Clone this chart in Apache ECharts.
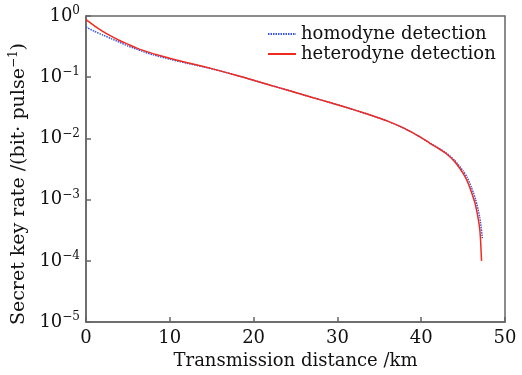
<!DOCTYPE html>
<html><head><meta charset="utf-8">
<script src="https://cdn.jsdelivr.net/npm/echarts@6/dist/echarts.min.js"></script>
<style>html,body{margin:0;padding:0;background:#fff}#c{width:522px;height:375px}</style>
</head><body><div id="c"></div>
<script>
const homDistance = [0, 1, 2, 3, 4, 5, 6, 7, 8, 10, 12, 14, 16, 18, 20, 22, 24, 26, 28, 30, 32, 34, 36, 38, 40, 41, 42, 43, 44, 45, 45.5, 46, 46.5, 47, 47.3];
const homRate = [0.661, 0.562, 0.490, 0.427, 0.372, 0.324, 0.288, 0.257, 0.232, 0.197, 0.170, 0.148, 0.127, 0.107, 0.0891, 0.0741, 0.0617, 0.0513, 0.0427, 0.0355, 0.0293, 0.0239, 0.0192, 0.0146, 0.0103, 0.00845, 0.00705, 0.00578, 0.00437, 0.00295, 0.00229, 0.00158, 0.00100, 0.000501, 0.000234];
const hetDistance = [0, 1, 2, 3, 4, 5, 6, 7, 8, 10, 12, 14, 16, 18, 20, 22, 24, 26, 28, 30, 32, 34, 36, 38, 40, 41, 42, 43, 44, 45, 45.5, 46, 46.5, 47, 47.2];
const hetRate = [0.871, 0.692, 0.562, 0.468, 0.398, 0.347, 0.302, 0.269, 0.243, 0.204, 0.174, 0.150, 0.127, 0.107, 0.0891, 0.0741, 0.0617, 0.0513, 0.0427, 0.0355, 0.0293, 0.0239, 0.0192, 0.0146, 0.0103, 0.00840, 0.00695, 0.00562, 0.00417, 0.00269, 0.00200, 0.00132, 0.000794, 0.000316, 0.000100];
const xMin = 0, xMax = 50, xStep = 10;
const yMin = 1e-5, yMax = 1;
const seriesNames = ['homodyne detection', 'heterodyne detection'];

const FONT = 'DejaVu Serif';
const AX = '#666';
const pair = (xs, ys) => xs.map((x, i) => [x, ys[i]]);
const supRich = {
  b: {fontFamily: FONT, fontSize: 18, color: '#111'},
  s: {fontFamily: FONT, fontSize: 12, color: '#111', padding: [0, 0, 10, 0]}
};
const titleRich = {
  b: {fontFamily: FONT, fontSize: 19, color: '#111'},
  s: {fontFamily: FONT, fontSize: 12, color: '#111', padding: [0, 0, 10, 0]}
};

const chart = echarts.init(document.getElementById('c'), null, {renderer: 'canvas'});
chart.setOption({
  animation: false,
  backgroundColor: '#fff',
  grid: {left: 85, right: 17, top: 16, bottom: 48, show: true, borderColor: AX, borderWidth: 1.5, containLabel: false},
  legend: {
    orient: 'vertical', left: 262, top: 20, itemGap: 2, itemWidth: 28, itemHeight: 14,
    itemStyle: {opacity: 0},
    textStyle: {fontFamily: FONT, fontSize: 18, color: '#111'},
    data: seriesNames
  },
  xAxis: {
    type: 'value', min: xMin, max: xMax, interval: xStep,
    name: 'Transmission distance /km', nameLocation: 'middle', nameGap: 24,
    nameTextStyle: {fontFamily: FONT, fontSize: 18, color: '#111'},
    axisLine: {lineStyle: {color: AX, width: 1.5}},
    axisTick: {inside: true, length: 5, lineStyle: {color: AX, width: 1.5}},
    axisLabel: {fontFamily: FONT, fontSize: 18, color: '#111', margin: 7},
    splitLine: {show: false}
  },
  yAxis: {
    type: 'log', logBase: 10, min: yMin, max: yMax,
    name: '{b|Secret key rate /(bit· pulse}{s|−1}{b|)}', nameLocation: 'middle', nameGap: 54,
    nameTextStyle: {fontFamily: FONT, fontSize: 19, color: '#111', rich: titleRich, padding: [0, 30, 0, 0]},
    axisLine: {lineStyle: {color: AX, width: 1.5}},
    axisTick: {inside: true, length: 5, lineStyle: {color: AX, width: 1.5}},
    minorTick: {show: false},
    axisLabel: {
      margin: 6, rich: supRich,
      formatter: v => { const e = Math.round(Math.log10(v)); return '{b|10}{s|' + (e < 0 ? '−' + (-e) : e) + '}'; }
    },
    splitLine: {show: false}
  },
  series: [
    {name: seriesNames[0], type: 'line', data: pair(homDistance, homRate), showSymbol: false, symbol: 'none', smooth: 0.2,
      lineStyle: {color: '#3a55e0', width: 1.5, type: [1.5, 1]}, itemStyle: {color: '#3a55e0'}, z: 2},
    {name: seriesNames[1], type: 'line', data: pair(hetDistance, hetRate), showSymbol: false, symbol: 'none', smooth: 0.2,
      lineStyle: {color: '#f02a1e', width: 1.5}, itemStyle: {color: '#f02a1e'}, z: 3}
  ]
});
</script></body></html>
